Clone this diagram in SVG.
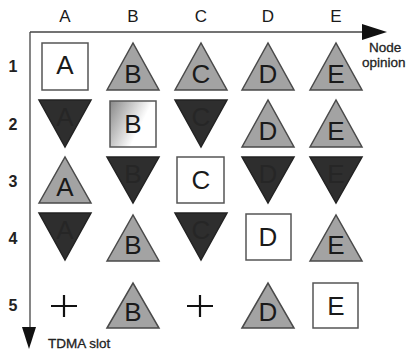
<svg xmlns="http://www.w3.org/2000/svg" width="407" height="353" viewBox="0 0 407 353">
<defs>
<linearGradient id="g" x1="0" y1="0" x2="1" y2="0.5">
<stop offset="0" stop-color="#888"/>
<stop offset="0.75" stop-color="#fff"/>
</linearGradient>
</defs>
<style>
text{font-family:"Liberation Sans",Arial,sans-serif;fill:#1a1a1a}
.hdr{font-size:17px;text-anchor:middle}
.row{font-size:16px;text-anchor:middle;font-weight:bold;fill:#222}
.lt{fill:#a3a3a3;stroke:#4a4a4a;stroke-width:1.5}
.dk{fill:#2e2e2e;stroke:#222;stroke-width:1.5}
.bx{fill:#fff;stroke:#555;stroke-width:1.5}
.ltr{font-size:26px;text-anchor:middle}
.dl{fill:#262626}
.pl{stroke:#111;stroke-width:2.2;fill:none}
.ax{stroke:#444;stroke-width:1.3;fill:none}
.lab{font-size:13.5px;fill:#222;stroke:#222;stroke-width:0.3}
</style>
<g id="headers">
<text class="hdr" x="65" y="22">A</text>
<text class="hdr" x="133" y="22">B</text>
<text class="hdr" x="201" y="22">C</text>
<text class="hdr" x="268" y="22">D</text>
<text class="hdr" x="336" y="22">E</text>
<text class="row" x="13" y="72">1</text>
<text class="row" x="13" y="130">2</text>
<text class="row" x="13" y="187">3</text>
<text class="row" x="13" y="244">4</text>
<text class="row" x="13" y="311">5</text>
</g>
<g id="connectors">
<line class="ax" x1="30" y1="32" x2="364" y2="32"/>
<path d="M362,24 L387,32 L362,40 Z" fill="#111"/>
<line class="ax" x1="30" y1="32" x2="30" y2="330"/>
<path d="M22,327 L29,349 L36,327 Z" fill="#111"/>
<text class="lab" x="369" y="52">Node</text>
<text class="lab" x="362" y="67">opinion</text>
<text class="lab" x="48" y="348">TDMA slot</text>
</g>
<!-- Row 1 -->
<g id="r1A"><rect class="bx" x="42" y="43" width="46" height="47"/><text class="ltr" x="65" y="74">A</text></g>
<g id="r1B"><polygon class="lt" points="107,90 133,43 159,90"/><text class="ltr" x="133" y="83">B</text></g>
<g id="r1C"><polygon class="lt" points="175,90 201,43 227,90"/><text class="ltr" x="201" y="83">C</text></g>
<g id="r1D"><polygon class="lt" points="242,90 268,43 294,90"/><text class="ltr" x="268" y="83">D</text></g>
<g id="r1E"><polygon class="lt" points="310,90 336,43 362,90"/><text class="ltr" x="336" y="83">E</text></g>
<!-- Row 2 -->
<g id="r2A"><polygon class="dk" points="39,100 91,100 65,147"/><text class="ltr dl" x="65" y="126">A</text></g>
<g id="r2B"><rect x="110" y="101" width="46" height="46" fill="url(#g)" stroke="#555" stroke-width="1.5"/><text class="ltr" x="133" y="133">B</text></g>
<g id="r2C"><polygon class="dk" points="175,100 227,100 201,147"/><text class="ltr dl" x="201" y="126">C</text></g>
<g id="r2D"><polygon class="lt" points="242,147 268,100 294,147"/><text class="ltr" x="268" y="140">D</text></g>
<g id="r2E"><polygon class="lt" points="310,147 336,100 362,147"/><text class="ltr" x="336" y="140">E</text></g>
<!-- Row 3 -->
<g id="r3A"><polygon class="lt" points="39,203 65,157 91,203"/><text class="ltr" x="65" y="196">A</text></g>
<g id="r3B"><polygon class="dk" points="107,157 159,157 133,203"/><text class="ltr dl" x="133" y="183">B</text></g>
<g id="r3C"><rect class="bx" x="177" y="157" width="47" height="46"/><text class="ltr" x="201" y="189">C</text></g>
<g id="r3D"><polygon class="dk" points="242,157 294,157 268,203"/><text class="ltr dl" x="268" y="183">D</text></g>
<g id="r3E"><polygon class="dk" points="310,157 362,157 336,203"/><text class="ltr dl" x="336" y="183">E</text></g>
<!-- Row 4 -->
<g id="r4A"><polygon class="dk" points="39,213 91,213 65,260"/><text class="ltr dl" x="65" y="239">A</text></g>
<g id="r4B"><polygon class="lt" points="107,261 133,215 159,261"/><text class="ltr" x="133" y="254">B</text></g>
<g id="r4C"><polygon class="dk" points="175,213 227,213 201,260"/><text class="ltr dl" x="201" y="239">C</text></g>
<g id="r4D"><rect class="bx" x="246" y="214" width="45" height="46"/><text class="ltr" x="268" y="246">D</text></g>
<g id="r4E"><polygon class="lt" points="310,261 336,215 362,261"/><text class="ltr" x="336" y="254">E</text></g>
<!-- Row 5 -->
<g id="r5A"><path class="pl" d="M51,306 H77 M64,295 V317"/></g>
<g id="r5B"><polygon class="lt" points="107,328 133,283 159,328"/><text class="ltr" x="133" y="321">B</text></g>
<g id="r5C"><path class="pl" d="M187,306 H213 M200,295 V317"/></g>
<g id="r5D"><polygon class="lt" points="242,328 268,283 294,328"/><text class="ltr" x="268" y="321">D</text></g>
<g id="r5E"><rect class="bx" x="313" y="283" width="45" height="45"/><text class="ltr" x="336" y="315">E</text></g>
</svg>
